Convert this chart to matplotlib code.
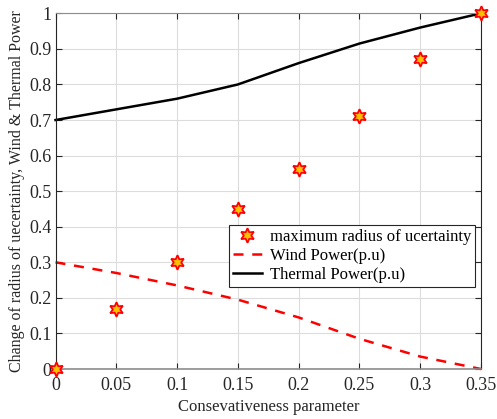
import matplotlib
matplotlib.use("Agg")
import matplotlib.pyplot as plt
import numpy as np

plt.rcParams['font.family'] = ['Liberation Serif', 'DejaVu Serif']

# datos
conserv = [0, 0.05, 0.1, 0.15, 0.2, 0.25, 0.3, 0.35]
radio_max = [0.0, 0.17, 0.30, 0.45, 0.562, 0.71, 0.871, 1.0]
eolica = [0.30, 0.27, 0.235, 0.195, 0.145, 0.085, 0.035, 0.0]
termica = [0.70, 0.73, 0.76, 0.80, 0.86, 0.915, 0.96, 1.0]

xticks = [0, 0.05, 0.1, 0.15, 0.2, 0.25, 0.3, 0.35]
xtick_labels = ['0', '0.05', '0.1', '0.15', '0.2', '0.25', '0.3', '0.35']
yticks = np.arange(0, 1.01, 0.1)
ytick_labels = ['0', '0.1', '0.2', '0.3', '0.4', '0.5', '0.6', '0.7', '0.8', '0.9', '1']

fig = plt.figure(figsize=(4.97, 4.19), dpi=100)
ax = fig.add_axes([0.1117, 0.1193, 0.8561, 0.8489])

ax.plot(conserv, radio_max, linestyle='none', marker=(6, 1, 0), markersize=10.5,
        markerfacecolor='#FFC000', markeredgecolor='red', markeredgewidth=1.3,
        label='maximum radius of ucertainty', zorder=5, clip_on=False)
ax.plot(conserv, eolica, color='red', linestyle=(0, (4, 3.5)), linewidth=1.8,
        label='Wind Power(p.u)', clip_on=False)
ax.plot(conserv, termica, color='black', linewidth=1.8,
        label='Thermal Power(p.u)', clip_on=False)

ax.set_xlim(0, 0.35)
ax.set_ylim(0, 1)
ax.set_xticks(xticks)
ax.set_xticklabels(xtick_labels)
ax.set_yticks(yticks)
ax.set_yticklabels(ytick_labels)
ax.tick_params(direction='in', top=True, right=True, labelsize=13, length=4,
               colors='#262626')
ax.tick_params(axis='x', pad=6)
ax.tick_params(axis='y', pad=3)
ax.grid(True, color='#dcdcdc', linewidth=0.8)
ax.set_axisbelow(True)
for s in ax.spines.values():
    s.set_color('#262626')
    s.set_linewidth(0.8)
ax.spines['top'].set_color('#8c8c8c')
ax.spines['bottom'].set_color('#8c8c8c')
ax.spines['bottom'].set_linewidth(1.2)

ax.set_xlabel('Consevativeness parameter', fontsize=12, color='#262626', labelpad=3)
ax.set_ylabel('Change of radius of uecertainty, Wind & Thermal Power', fontsize=11.5,
              color='#262626', labelpad=3)

leg = ax.legend(loc='upper right', bbox_to_anchor=(0.987, 0.405), fontsize=12,
                frameon=True, fancybox=False, framealpha=1, edgecolor='#262626',
                borderpad=0.25, labelspacing=0.18, handlelength=1.7, handletextpad=0.5,
                borderaxespad=0)
leg.get_frame().set_linewidth(0.8)

plt.savefig('out.png', dpi=100)
